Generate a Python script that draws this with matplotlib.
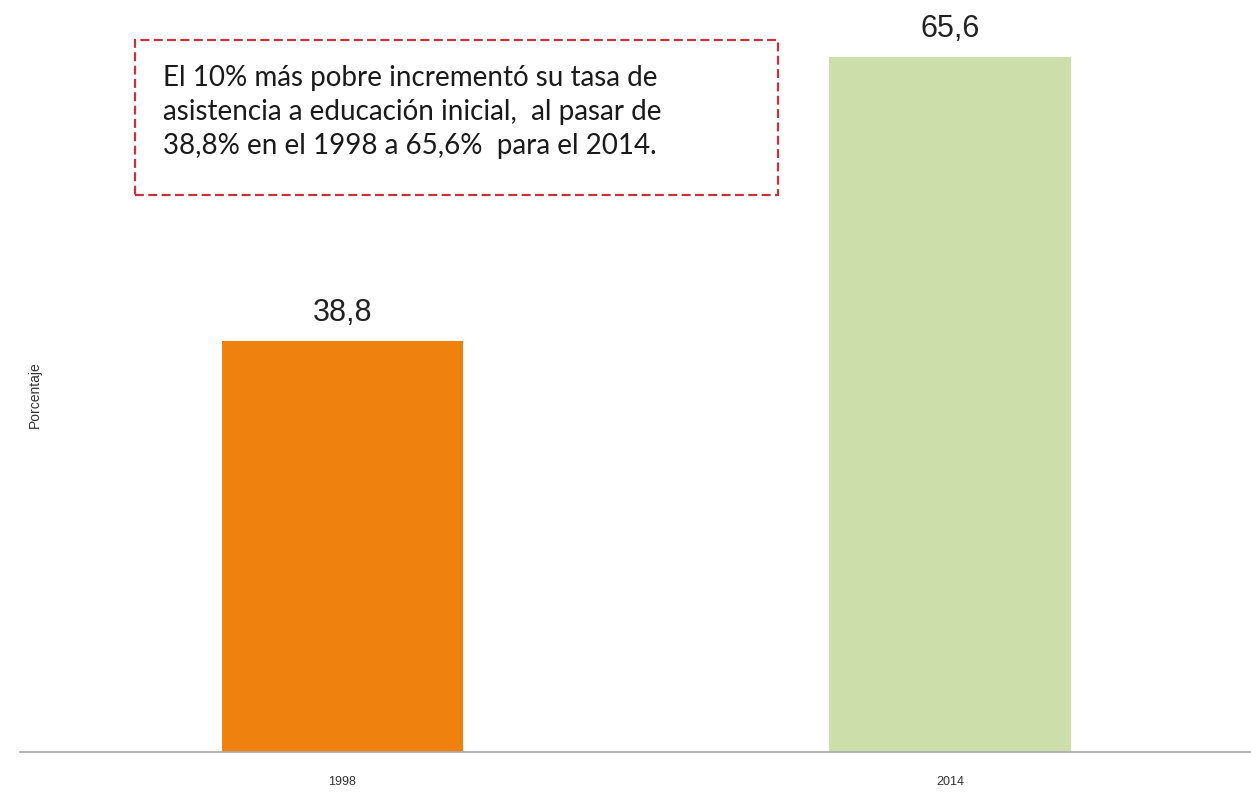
import matplotlib.pyplot as plt
from matplotlib.patches import Rectangle

# data
years = ["1998", "2014"]
values = [38.8, 65.6]
value_labels = ["38,8", "65,6"]
colors = ["#EF820F", "#CCDFAA"]
note = ("El 10% más pobre incrementó su tasa de\n"
        "asistencia a educación inicial,  al pasar de\n"
        "38,8% en el 1998 a 65,6%  para el 2014.")

W, H = 1251, 793
fig = plt.figure(figsize=(W / 100, H / 100), dpi=100)
ax = fig.add_axes([20 / W, 41 / H, 1 - 20 / W, 752 / H])

x = [0, 1]
ax.bar(x, values, width=0.397, color=colors)
for xi, v, lab in zip(x, values, value_labels):
    ax.text(xi, v + 1.2, lab, ha="center", va="bottom", fontsize=22,
            family="Liberation Sans", color="#222222")

ax.set_xlim(-0.53, 1.495)
ax.set_ylim(0, 71)
ax.set_xticks(x)
ax.set_xticklabels(years, fontsize=9, family="Liberation Sans", color="#333333")
ax.tick_params(axis="x", length=0, pad=17)
ax.set_yticks([])
for s in ["top", "right", "left"]:
    ax.spines[s].set_visible(False)
ax.spines["bottom"].set_color("#AAAAAA")
ax.spines["bottom"].set_linewidth(1.2)

fig.text(35 / W, 1 - 395 / H, "Porcentaje", rotation=90, ha="center", va="center",
         fontsize=10, family="Liberation Sans", color="#333333")

# dashed note box
fig.patches.append(Rectangle((135 / W, 1 - 195 / H), 643 / W, 155 / H,
                             transform=fig.transFigure, fill=False,
                             edgecolor="#C8323C", linestyle=(0, (4, 2)), linewidth=1.6))
fig.text(163 / W, 1 - 112 / H, note, ha="left", va="center", fontsize=20,
         family="Lato", linespacing=1.4, color="#1a1a1a")

fig.savefig("out.png", dpi=100)
